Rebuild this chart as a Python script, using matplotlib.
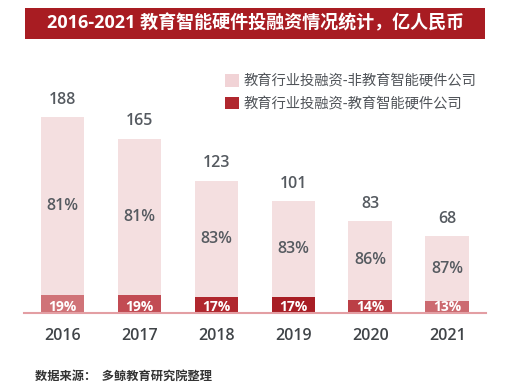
import matplotlib
matplotlib.use("Agg")
import matplotlib.pyplot as plt
from matplotlib.patches import Rectangle, Patch

plt.rcParams['font.family'] = ['Noto Sans CJK SC', 'DejaVu Sans']

# ---------------- data ----------------
years = ["2016", "2017", "2018", "2019", "2020", "2021"]
totals = [188, 165, 123, 101, 83, 68]          # 亿人民币
pct_other = [81, 81, 83, 83, 86, 87]           # 非教育智能硬件公司 %
pct_hw = [19, 19, 17, 17, 14, 13]              # 教育智能硬件公司 %

title = "2016-2021 教育智能硬件投融资情况统计，亿人民币"
legend_labels = ["教育行业投融资-非教育智能硬件公司", "教育行业投融资-教育智能硬件公司"]
source = "数据来源：  多鲸教育研究院整理"

# ---------------- style ----------------
light = "#f4dfe0"
dark_cols = ["#d07378", "#c24b53", "#b0272e", "#a81e25", "#bb3f46", "#cc6a70"]
text_col = "#555a60"
num_font = ["Open Sans", "Noto Sans CJK SC"]

fig = plt.figure(figsize=(5.12, 3.84), dpi=100)
ax = fig.add_axes([0.047, 0.185, 0.902, 0.66])

x = range(len(years))
w = 0.57
ax.bar(x, pct_hw, width=w, color=dark_cols, zorder=2)
ax.bar(x, totals, width=w, bottom=pct_hw, color=light, zorder=2)

for i in x:
    top = totals[i] + pct_hw[i]
    ax.text(i, top + 10, str(totals[i]), ha="center", va="bottom", family=num_font,
            fontsize=11.5, color=text_col, fontweight="semibold")
    ax.text(i, pct_hw[i] + totals[i] / 2, f"{pct_other[i]}%", ha="center", family=num_font,
            va="center", fontsize=11.5, color=text_col, fontweight="semibold")
    # white label inside the dark segment, sitting a little above the baseline
    ax.text(i, 2.5, f"{pct_hw[i]}%", ha="center", va="baseline", family=num_font,
            fontsize=10, color="white", fontweight="bold")

ax.set_xlim(-0.5, 5.5)
ax.set_ylim(0, 268)
ax.set_xticks(list(x))
ax.set_xticklabels(years, fontsize=11.5, color="#404448", fontweight="semibold",
                   family=num_font)
ax.tick_params(axis="x", length=0, pad=11)
ax.set_yticks([])
for s in ["top", "right", "left"]:
    ax.spines[s].set_visible(False)
ax.spines["bottom"].set_color("#e39ea3")
ax.spines["bottom"].set_linewidth(1.5)

# legend
handles = [Patch(facecolor="#f1d3d6", edgecolor="none"),
           Patch(facecolor="#b0272e", edgecolor="none")]
fig.legend(handles, legend_labels, loc="upper left",
           bbox_to_anchor=(0.415, 0.84), frameon=False, fontsize=10.3,
           handlelength=0.95, handleheight=0.95, handletextpad=0.35,
           labelspacing=0.6, labelcolor="#505459")

# title banner
fig.patches.append(Rectangle((0.049, 0.898), 0.899, 0.082, transform=fig.transFigure,
                             facecolor="#a81c22", edgecolor="none"))
fig.text(0.5, 0.939, title, ha="center", va="center", fontsize=13,
         color="white", fontweight="bold", family=num_font)

fig.text(0.068, 0.004, source, ha="left", va="bottom", fontsize=8.8,
         color="#333333", fontweight="bold")

fig.savefig("out.png", dpi=100)
